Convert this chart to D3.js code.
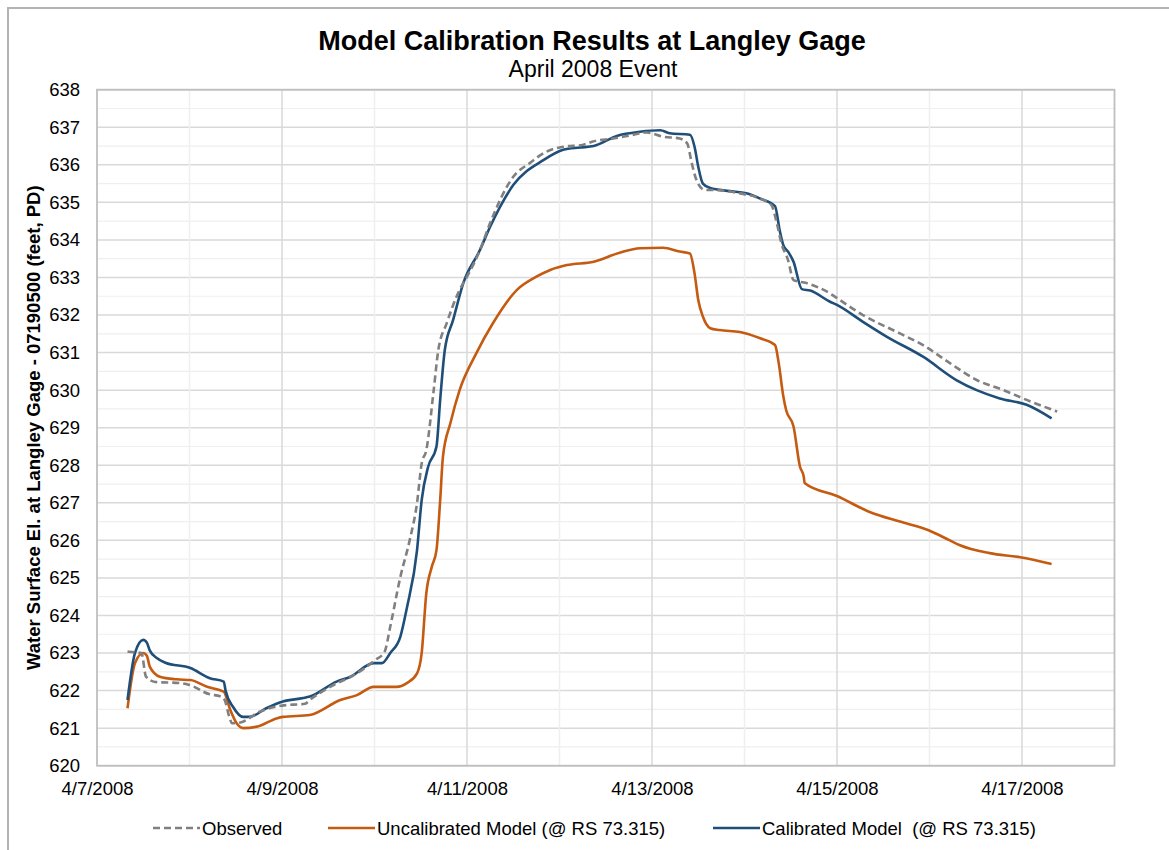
<!DOCTYPE html>
<html lang="en">
<head>
<meta charset="utf-8">
<title>Model Calibration Results at Langley Gage</title>
<script src="https://cdn.jsdelivr.net/npm/d3@7"></script>
<style>
  body { margin: 0; background: #fff; }
  svg { font-family: "Liberation Sans", Arial, sans-serif; }
</style>
</head>
<body>
<svg id="chart" width="1169" height="850"></svg>
<script>
// days since 4/7/2008 00:00 and water surface elevation (ft)
var obsT = [0.33,0.41,0.48,0.53,0.63,0.90,1.00,1.22,1.33,1.38,1.43,1.46,1.55,1.76,2.00,2.25,2.30,2.52,2.81,3.00,3.11,3.17,3.28,3.38,3.46,3.51,3.56,3.64,3.69,3.78,3.92,4.00,4.14,4.25,4.50,4.68,4.86,5.04,5.25,5.36,5.58,5.76,5.94,6.12,6.30,6.38,6.43,6.48,6.57,6.66,6.95,7.17,7.29,7.35,7.40,7.47,7.53,7.67,7.92,8.00,8.28,8.68,8.93,9.22,9.51,9.80,10.05,10.38];
var obsV = [623.04,623.02,623.0,622.37,622.23,622.2,622.15,621.9,621.85,621.75,621.3,621.13,621.15,621.44,621.6,621.65,621.75,622.1,622.46,622.8,623.04,623.7,625.03,626.0,627.0,628.05,628.4,630.0,631.07,631.78,632.67,633.02,633.73,634.45,635.68,636.05,636.35,636.48,636.53,636.62,636.7,636.78,636.86,636.75,636.7,636.57,636.04,635.6,635.33,635.33,635.24,635.1,634.93,634.44,633.9,633.47,632.93,632.85,632.58,632.45,632.0,631.51,631.2,630.72,630.27,630.0,629.74,629.43];

var uncalT = [0.33,0.41,0.50,0.54,0.57,0.68,0.86,1.01,1.19,1.37,1.44,1.51,1.58,1.73,1.94,2.01,2.30,2.63,2.81,2.99,3.24,3.35,3.46,3.51,3.56,3.62,3.67,3.71,3.74,3.82,3.92,4.10,4.28,4.54,4.75,4.90,5.08,5.37,5.65,5.87,6.12,6.30,6.41,6.46,6.50,6.55,6.63,6.73,6.95,7.17,7.33,7.37,7.42,7.45,7.53,7.60,7.64,7.65,8.00,8.36,8.68,8.99,9.22,9.33,9.65,9.98,10.32];
var uncalV = [621.53,622.73,623.0,622.92,622.64,622.37,622.3,622.28,622.1,621.97,621.49,621.13,621.0,621.04,621.26,621.3,621.35,621.75,621.88,622.1,622.1,622.2,622.46,623.0,624.59,625.3,625.74,627.07,628.23,629.12,630.0,630.98,631.78,632.67,633.02,633.2,633.33,633.42,633.66,633.78,633.79,633.69,633.64,633.11,632.4,631.96,631.65,631.6,631.55,631.38,631.2,630.72,629.83,629.47,629.03,627.96,627.7,627.53,627.18,626.75,626.5,626.27,626.0,625.87,625.66,625.55,625.37];

var calT = [0.33,0.41,0.50,0.54,0.57,0.65,0.74,1.01,1.22,1.37,1.39,1.47,1.58,1.65,1.83,2.01,2.23,2.30,2.59,2.74,2.99,3.08,3.17,3.28,3.35,3.46,3.51,3.58,3.67,3.71,3.76,3.85,3.96,4.14,4.25,4.50,4.83,5.04,5.22,5.37,5.62,5.87,6.09,6.19,6.41,6.46,6.50,6.55,6.63,6.84,7.02,7.17,7.33,7.38,7.42,7.47,7.53,7.62,7.71,7.92,8.00,8.28,8.54,8.93,9.29,9.51,9.76,10.05,10.32];
var calV = [621.75,623.0,623.35,623.27,623.07,622.86,622.74,622.6,622.33,622.24,622.0,621.57,621.3,621.3,621.53,621.71,621.8,621.84,622.24,622.37,622.73,622.73,623.0,623.44,624.2,625.74,627.07,627.96,628.5,629.74,631.07,631.87,632.85,633.73,634.35,635.46,636.13,636.4,636.46,636.5,636.77,636.88,636.92,636.84,636.8,636.48,635.95,635.5,635.38,635.3,635.24,635.1,634.9,634.26,633.86,633.69,633.42,632.69,632.65,632.36,632.27,631.82,631.42,630.89,630.27,630.0,629.78,629.61,629.25];

var xTickLabels = ['4/7/2008','4/9/2008','4/11/2008','4/13/2008','4/15/2008','4/17/2008'];
var yTicks = d3.range(620, 639, 1);

var seriesNames = ['Observed', 'Uncalibrated Model (@ RS 73.315)', 'Calibrated Model  (@ RS 73.315)'];

var start = new Date(2008, 3, 7);
function toDate(d) { return new Date(start.getTime() + d * 864e5); }

var plotL = 97, plotT = 89.7, plotR = 1114.5, plotB = 765.7;

var svg = d3.select('#chart');

// outer frame
svg.append('rect')
    .attr('x', 8).attr('y', 8)
    .attr('width', 1200).attr('height', 900)
    .attr('fill', 'none')
    .attr('stroke', '#b3b3b3')
    .attr('stroke-width', 2);

var x = d3.scaleTime()
    .domain([start, new Date(2008, 3, 18)])
    .range([plotL, plotR]);
var y = d3.scaleLinear()
    .domain([620, 638])
    .range([plotB, plotT]);

var grid = svg.append('g');

// horizontal grid, half-foot minor lines lighter
var hMinor = d3.range(620.5, 638, 1);
grid.selectAll('.hmin').data(hMinor).enter().append('line')
    .attr('x1', plotL).attr('x2', plotR)
    .attr('y1', d => y(d)).attr('y2', d => y(d))
    .attr('stroke', '#efefef').attr('stroke-width', 1.2);
grid.selectAll('.hmaj').data(yTicks).enter().append('line')
    .attr('x1', plotL).attr('x2', plotR)
    .attr('y1', d => y(d)).attr('y2', d => y(d))
    .attr('stroke', '#d9d9d9').attr('stroke-width', 1.5);

// vertical grid, daily
var days = d3.range(1, 11);
grid.selectAll('.v').data(days).enter().append('line')
    .attr('x1', d => x(toDate(d))).attr('x2', d => x(toDate(d)))
    .attr('y1', plotT).attr('y2', plotB)
    .attr('stroke', d => d % 2 == 0 ? '#d9d9d9' : '#efefef')
    .attr('stroke-width', 1.5);

// plot border
svg.append('rect')
    .attr('x', plotL).attr('y', plotT)
    .attr('width', plotR - plotL).attr('height', plotB - plotT)
    .attr('fill', 'none')
    .attr('stroke', '#bfbfbf')
    .attr('stroke-width', 1.8);

// axes
var xAxis = d3.axisBottom(x)
    .tickValues(d3.range(0, 11, 2).map(toDate))
    .tickSize(0)
    .tickPadding(16)
    .tickFormat((d, i) => xTickLabels[i]);
svg.append('g')
    .attr('transform', 'translate(0,' + plotB + ')')
    .call(xAxis)
    .call(g => g.select('.domain').remove())
    .selectAll('text')
    .attr('font-size', '18.5px')
    .attr('fill', '#000');

var yAxis = d3.axisLeft(y)
    .tickValues(yTicks)
    .tickSize(0)
    .tickPadding(17)
    .tickFormat(d3.format('d'));
svg.append('g')
    .attr('transform', 'translate(' + plotL + ',0)')
    .call(yAxis)
    .call(g => g.select('.domain').remove())
    .selectAll('text')
    .attr('font-size', '18.5px')
    .attr('fill', '#000');

// lines
function pts(t, v) { return t.map((d, i) => [toDate(d), v[i]]); }
var line = d3.line()
    .x(d => x(d[0]))
    .y(d => y(d[1]))
    .curve(d3.curveMonotoneX);

svg.append('path')
    .datum(pts(uncalT, uncalV))
    .attr('d', line)
    .attr('fill', 'none')
    .attr('stroke', '#c55a11')
    .attr('stroke-width', 2.6);

svg.append('path')
    .datum(pts(calT, calV))
    .attr('d', line)
    .attr('fill', 'none')
    .attr('stroke', '#1f4e79')
    .attr('stroke-width', 2.6);

svg.append('path')
    .datum(pts(obsT, obsV))
    .attr('d', line)
    .attr('fill', 'none')
    .attr('stroke', '#808080')
    .attr('stroke-width', 2.6)
    .attr('stroke-dasharray', '7,4');

// titles
svg.append('text')
    .attr('x', 592).attr('y', 50)
    .attr('text-anchor', 'middle')
    .attr('font-size', '27px')
    .attr('font-weight', 'bold')
    .text('Model Calibration Results at Langley Gage');
svg.append('text')
    .attr('x', 593).attr('y', 77)
    .attr('text-anchor', 'middle')
    .attr('font-size', '23px')
    .text('April 2008 Event');

svg.append('text')
    .attr('transform', 'translate(40,' + ((plotT + plotB) / 2) + ') rotate(-90)')
    .attr('text-anchor', 'middle')
    .attr('font-size', '18.5px')
    .attr('font-weight', 'bold')
    .text('Water Surface El. at Langley Gage - 07190500 (feet, PD)');

// legend
var legendX = [153, 328, 713];
var legendStyles = [
    {color: '#808080', dash: '7,4'},
    {color: '#c55a11', dash: null},
    {color: '#1f4e79', dash: null}
];
var lg = svg.append('g');
seriesNames.forEach(function(name, i) {
    lg.append('line')
        .attr('x1', legendX[i]).attr('x2', legendX[i] + 47)
        .attr('y1', 828).attr('y2', 828)
        .attr('stroke', legendStyles[i].color)
        .attr('stroke-width', 2.6)
        .attr('stroke-dasharray', legendStyles[i].dash);
    lg.append('text')
        .attr('x', legendX[i] + 49).attr('y', 834.5)
        .attr('font-size', '18.5px')
        .style('white-space', 'pre')
        .text(name);
});
</script>
</body>
</html>
